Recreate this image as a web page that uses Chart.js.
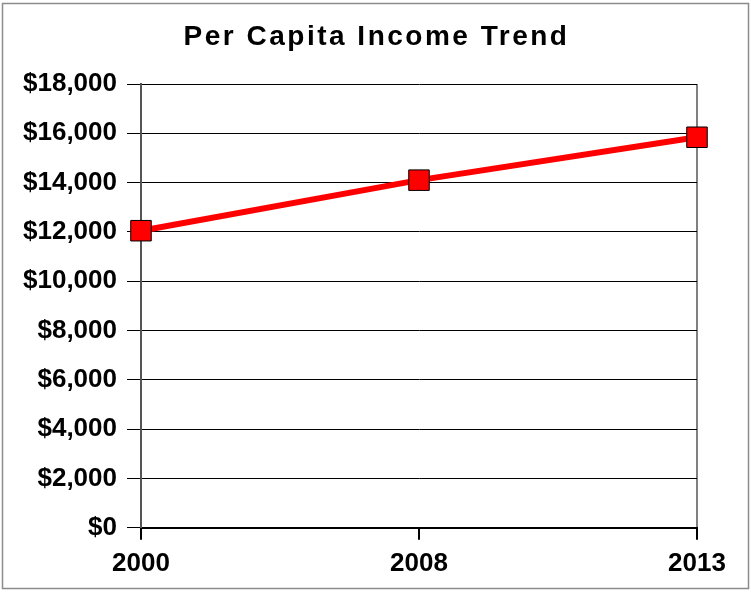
<!DOCTYPE html>
<html>
<head>
<meta charset="utf-8">
<script src="https://cdn.jsdelivr.net/npm/chart.js@4"></script>
<style>
  html, body { margin: 0; padding: 0; background: #fff; }
  #wrap { width: 751px; height: 592px; position: relative; }
</style>
</head>
<body>
<div id="wrap"><canvas id="incomeChart"></canvas></div>
<script>
const years = ['2000', '2008', '2013'];
const income = [12050, 14100, 15840];
const yMin = 0;
const yMax = 18000;
const yStep = 2000;
const chartTitle = 'Per Capita Income Trend';

// grey frame round the whole picture, and the spaced-out title
const frame = {
    id: 'frame',
    afterDraw(chart) {
        const c = chart.ctx;
        c.save();
        c.strokeStyle = '#8c8c8c';
        c.lineWidth = 1.5;
        c.strokeRect(2.5, 3.5, chart.width - 5, chart.height - 7);
        c.fillStyle = '#000';
        c.font = 'bold 28px "Liberation Sans"';
        if ('letterSpacing' in c) c.letterSpacing = '2.5px';
        c.textAlign = 'center';
        c.textBaseline = 'middle';
        c.fillText(chartTitle, chart.width / 2 + 1, 37);
        c.restore();
    }
};

const ctx = document.querySelector('#incomeChart').getContext('2d');
const incomeChart = new Chart(ctx, {
    type: 'line',
    data: {
        labels: years,
        datasets: [{
            label: 'Per Capita Income',
            data: income,
            borderColor: '#ff0000',
            borderWidth: 6,
            pointStyle: 'rect',
            pointRadius: 14.5,
            pointBackgroundColor: '#ff0000',
            pointBorderColor: '#000',
            pointBorderWidth: 1,
            tension: 0
        }]
    },
    options: {
        responsive: true,
        maintainAspectRatio: false,
        animation: false,
        layout: { padding: { left: 13, right: 54, top: 84, bottom: 5 } },
        plugins: {
            legend: { display: false },
            tooltip: { enabled: false },
            title: { display: false }
        },
        scales: {
            x: {
                offset: false,
                grid: {
                    color: c => c.index === 1 ? 'rgba(0,0,0,0)' : '#808080',
                    tickColor: '#000',
                    tickLength: 12,
                    lineWidth: 2
                },
                border: { color: '#000', width: 2 },
                ticks: {
                    color: '#000',
                    padding: 8,
                    maxRotation: 0,
                    font: { family: 'Liberation Sans', size: 26, weight: 'bold' }
                }
            },
            y: {
                min: yMin,
                max: yMax,
                grid: { color: '#000', lineWidth: 1, tickLength: 14 },
                border: { color: '#555', width: 2 },
                ticks: {
                    stepSize: yStep,
                    color: '#000',
                    padding: 10,
                    font: { family: 'Liberation Sans', size: 26, weight: 'bold' },
                    callback: v => '$' + v.toLocaleString('en-US')
                }
            }
        }
    },
    plugins: [frame]
});
</script>
</body>
</html>
